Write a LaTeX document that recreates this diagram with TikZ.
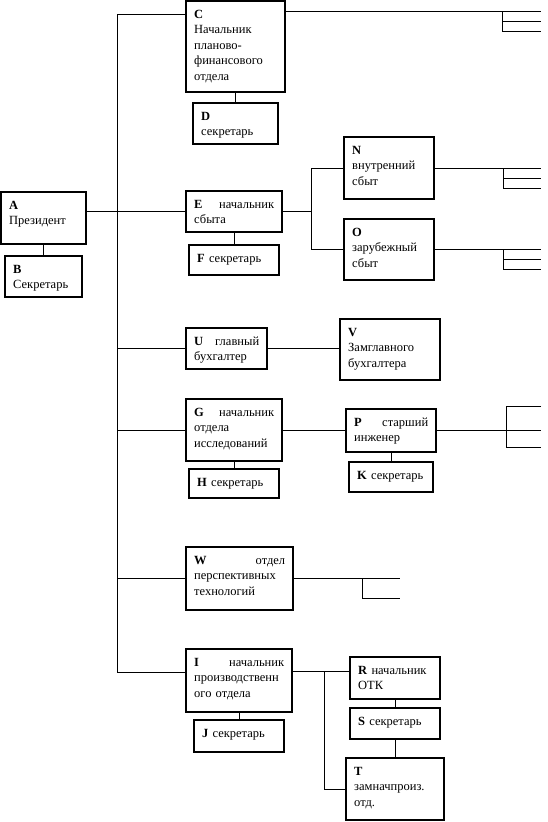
\documentclass[tikz,border=0pt]{standalone}
\usepackage{fontspec}
\setmainfont{Liberation Serif}
\usetikzlibrary{positioning,calc}

\begin{document}
\begin{tikzpicture}[
    x=1pt, y=-1pt,
    unit/.style={draw, line width=2.2pt, anchor=north west, outer sep=0pt, inner sep=0pt},
    txt/.style={anchor=north west, inner xsep=8pt, inner ysep=6pt, align=left, font=\fontsize{12.5}{15.5}\selectfont},
    link/.style={line width=0.9pt}
]
\useasboundingbox (0,0) rectangle (547,822);

% President
\node[unit, minimum width=85pt, minimum height=52pt, label={[txt, text width=69pt]north west:{\strut\textbf{A}\\Президент}}] (a) at (1,192) {};
\node[unit, minimum width=77pt, minimum height=41pt, below=12pt of a, label={[txt, text width=61pt]north west:{\strut\textbf{B}\\Секретарь}}] (b) {};

% Planning and finance
\node[unit, minimum width=99pt, minimum height=91pt, label={[txt, text width=83pt]north west:{\strut\textbf{C}\\Начальник\\планово-\\финансового\\отдела}}] (c) at (186,1) {};
\node[unit, minimum width=85pt, minimum height=41pt, below=11pt of c, label={[txt, text width=69pt]north west:{\strut\textbf{D}\\секретарь}}] (d) {};

% Sales
\node[unit, minimum width=96pt, minimum height=41pt, label={[txt, text width=80pt]north west:{\strut\textbf{E}\hfill начальник\\сбыта}}] (e) at (186,191) {};
\node[unit, minimum width=90pt, minimum height=30pt, below=13pt of e, label={[txt, text width=74pt]north west:{\strut\textbf{F} секретарь}}] (f) {};
\node[unit, minimum width=90pt, minimum height=62pt, label={[txt, text width=74pt]north west:{\strut\textbf{N}\\внутренний\\сбыт}}] (n) at (344,137) {};
\node[unit, minimum width=90pt, minimum height=61pt, label={[txt, text width=74pt]north west:{\strut\textbf{O}\\зарубежный\\сбыт}}] (o) at (344,219) {};

% Accounting
\node[unit, minimum width=81pt, minimum height=41pt, label={[txt, text width=65pt]north west:{\strut\textbf{U}\hfill главный\\бухгалтер}}] (u) at (186,328) {};
\node[unit, minimum width=100pt, minimum height=61pt, label={[txt, text width=84pt]north west:{\strut\textbf{V}\\Замглавного\\бухгалтера}}] (v) at (340,319) {};

% Research
\node[unit, minimum width=96pt, minimum height=62pt, label={[txt, text width=80pt]north west:{\strut\textbf{G}\hfill начальник\\отдела\\исследований}}] (g) at (186,399) {};
\node[unit, minimum width=90pt, minimum height=29pt, below=8pt of g, label={[txt, text width=74pt]north west:{\strut\textbf{H} секретарь}}] (h) {};
\node[unit, minimum width=90pt, minimum height=43pt, label={[txt, text width=74pt]north west:{\strut\textbf{P}\hfill старший\\инженер}}] (p) at (346,409) {};
\node[unit, minimum width=84pt, minimum height=30pt, below=10pt of p, label={[txt, text width=68pt]north west:{\strut\textbf{K} секретарь}}] (k) {};

% Advanced technologies
\node[unit, minimum width=107pt, minimum height=63pt, label={[txt, text width=91pt]north west:{\strut\textbf{W}\hfill отдел\\перспективных\\технологий}}] (w) at (186,547) {};

% Production
\node[unit, minimum width=106pt, minimum height=63pt, label={[txt, text width=90pt]north west:{\strut\textbf{I}\hfill начальник\\производственн\\ого отдела}}] (i) at (186,649) {};
\node[unit, minimum width=90pt, minimum height=32pt, below=8pt of i, label={[txt, text width=74pt]north west:{\strut\textbf{J} секретарь}}] (j) {};
\node[unit, minimum width=90pt, minimum height=42pt, label={[txt, text width=74pt]north west:{\strut\textbf{R} начальник\\ОТК}}] (r) at (350,657) {};
\node[unit, minimum width=90pt, minimum height=31pt, below=9pt of r, label={[txt, text width=74pt]north west:{\strut\textbf{S} секретарь}}] (s) {};
\node[unit, minimum width=98pt, minimum height=62pt, below=19pt of s, label={[txt, text width=82pt]north west:{\strut\textbf{T}\\замначпроиз.\\отд.}}] (t) {};

% trunk and branches
\coordinate (trunk-top) at (117,14);
\coordinate (trunk-end) at (117,672);
\coordinate (edge) at (541,0);
\draw[link] (c.west |- trunk-top) -- (trunk-top) -- (trunk-end) -- (trunk-end -| i.west);
\draw[link] (a.east |- e.west) -- (e.west);
\draw[link] (trunk-top |- u.west) -- (u.west);
\draw[link] (trunk-top |- g.west) -- (g.west);
\draw[link] (trunk-top |- w.west) -- (w.west);

% secretaries
\draw[link] (a) -- (b);
\draw[link] (c) -- (d);
\draw[link] (e) -- (f);
\draw[link] (g) -- (h);
\draw[link] (p) -- (k);
\draw[link] (i) -- (j);
\draw[link] (r) -- (s);
\draw[link] (s) -- (t);

% sales fork
\coordinate (sales) at (311,0);
\draw[link] (e.east) -- (e.east -| sales);
\draw[link] (n.west) -- (n.west -| sales) -- (o.west -| sales) -- (o.west);

% departments
\draw[link] (u.east) -- (u.east -| v.west);
\draw[link] (g.east) -- (g.east -| p.west);
\coordinate (prod) at (324,671);
\draw[link] (prod -| i.east) -- (prod -| r.west);
\draw[link] (prod) -- (prod |- t.west) -- (t.west);

% lines running off the page
\coordinate (c-fork) at (502,11);
\draw[link] (c-fork -| c.east) -- (c-fork -| edge);
\draw[link] (c-fork) -- ++(0,20) -- ++(39,0);
\draw[link] ($(c-fork)+(0,10)$) -- ++(39,0);

\coordinate (n-fork) at (503,0);
\draw[link] (n.east) -- (n.east -| edge);
\draw[link] (n.east -| n-fork) -- ++(0,20) -- ++(38,0);
\draw[link] ($(n.east -| n-fork)+(0,10)$) -- ++(38,0);
\draw[link] (o.east) -- (o.east -| edge);
\draw[link] (o.east -| n-fork) -- ++(0,20) -- ++(38,0);
\draw[link] ($(o.east -| n-fork)+(0,10)$) -- ++(38,0);

\coordinate (p-fork) at (506,0);
\draw[link] (p.east) -- (p.east -| edge);
\draw[link] ($(p.east -| edge)+(0,-24)$) -- ($(p.east -| p-fork)+(0,-24)$) -- ($(p.east -| p-fork)+(0,17)$) -- ($(p.east -| edge)+(0,17)$);

\coordinate (w-fork) at (362,0);
\coordinate (w-end) at (400,0);
\draw[link] (w.east) -- (w.east -| w-end);
\draw[link] (w.east -| w-fork) -- ++(0,20) -- ++(38,0);

\end{tikzpicture}
\end{document}
